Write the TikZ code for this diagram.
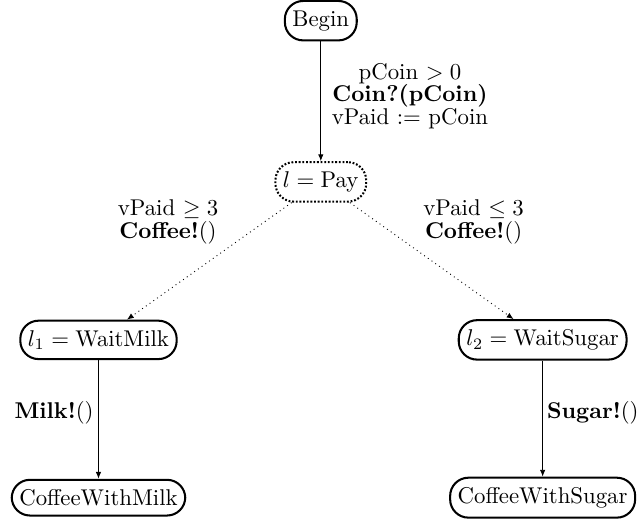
\documentclass[tikz,border=0pt]{standalone}
\usetikzlibrary{arrows.meta}
\newcommand\tightlines{\fontsize{10}{9.8}\selectfont\lineskiplimit=-100pt\relax\lineskip=0pt\relax}
\tikzset{
  state/.style={draw, line width=0.9pt, rounded corners=8pt, inner xsep=3.33pt, inner ysep=4.2pt},
  dstate/.style={state, dash pattern=on 0.8pt off 0.8pt},
  tr/.style={-{Latex[length=3pt,width=2.4pt]}, line width=0.4pt},
  dtr/.style={tr, dash pattern=on 0.4pt off 1.6pt},
  lbl/.style={align=center, inner sep=0pt, font=\tightlines},
}
\begin{document}
\begin{tikzpicture}[x=1pt,y=1pt]
\useasboundingbox (0,0) rectangle (280.7,228.07);
\node[state]  (begin) at (140.7,219.0) {Begin};
\node[dstate] (pay)   at (140.7,148.3) {$l = \mathrm{Pay}$};
\node[state]  (wm)    at (43.2,79)     {$l_1 = \mathrm{WaitMilk}$};
\node[state]  (ws)    at (238,79)      {$l_2 = \mathrm{WaitSugar}$};
\node[state]  (cwm)   at (43.2,9.8)    {CoffeeWithMilk};
\node[state]  (cws)   at (238,9.8)     {CoffeeWithSugar};

\draw[tr]  (begin) -- (pay);
\draw[dtr] (pay) -- (wm);
\draw[dtr] (pay) -- (ws);
\draw[tr]  (wm) -- (cwm);
\draw[tr]  (ws) -- (cws);

\node[lbl] (l1) at (179.8,186.0) {pCoin $> 0$\\ \textbf{Coin?(pCoin)}\\ vPaid $:=$ pCoin};
\node[lbl] (l2) at (73.7,130.8) {vPaid $\geq 3$\\ \textbf{Coffee!}()};
\node[lbl] (l3) at (207.7,130.8) {vPaid $\leq 3$\\ \textbf{Coffee!}()};
\node[lbl] (l4) at (23.7,47.1) {\textbf{Milk!}()};
\node[lbl] (l5) at (260,47.1) {\textbf{Sugar!}()};
\end{tikzpicture}
\end{document}
